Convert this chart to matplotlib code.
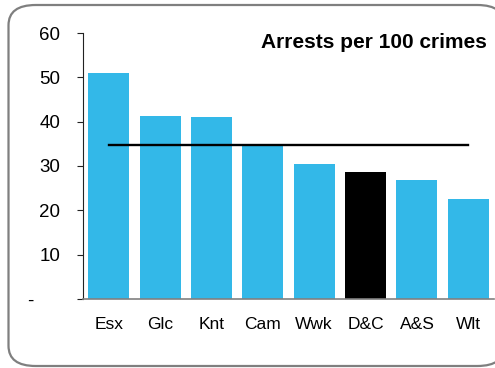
import matplotlib
matplotlib.use('Agg')
import matplotlib.pyplot as plt
from matplotlib.patches import FancyBboxPatch

plt.rcParams['font.family'] = ['Liberation Sans', 'DejaVu Sans']

# Data
forces = ['Esx', 'Glc', 'Knt', 'Cam', 'Wwk', 'D&C', 'A&S', 'Wlt']
arrests = [51.0, 41.2, 41.0, 35.0, 30.5, 28.6, 26.9, 22.6]
average = 34.7
highlight = 'D&C'
y_ticks = [0, 10, 20, 30, 40, 50, 60]
y_labels = ['-     ', '10', '20', '30', '40', '50', '60']

fig = plt.figure(figsize=(4.95, 3.68), dpi=100)

# Rounded border round the whole chart
border = FancyBboxPatch((8.5 / 495, 2 / 368), 496 / 495, 361 / 368,
                        boxstyle='round,pad=0,rounding_size=0.055',
                        transform=fig.transFigure, facecolor='white',
                        edgecolor='#7f7f7f', linewidth=1.6, zorder=-1)
fig.patches.append(border)

ax = fig.add_axes([83 / 495, 1 - 299 / 368, 411 / 495, (299 - 33) / 368])
ax.patch.set_alpha(0)
ax.set_zorder(1)

colors = ['black' if f == highlight else '#33B8E8' for f in forces]
x = range(len(forces))
ax.bar(x, arrests, width=0.8, color=colors, zorder=2)
ax.plot([0, len(forces) - 1], [average, average], color='black', linewidth=1.7, zorder=3)

ax.set_xlim(-0.5, len(forces) - 0.5)
ax.set_ylim(0, 60)
ax.set_yticks(y_ticks)
ax.set_yticklabels(y_labels, fontsize=13.5)
ax.set_xticks(list(x))
ax.set_xticklabels(forces, fontsize=12.5)

ax.spines['top'].set_visible(False)
ax.spines['right'].set_visible(False)
ax.spines['left'].set_color('#222222')
ax.spines['bottom'].set_color('#808080')
ax.spines['bottom'].set_linewidth(1.2)
ax.tick_params(axis='y', length=4.3, color='#222222', pad=12)
ax.tick_params(axis='x', length=0, pad=13)

fig.text(487 / 495, 1 - 42 / 368, 'Arrests per 100 crimes', ha='right', va='center',
         fontsize=15, fontweight='bold', zorder=5)

fig.savefig('out.png', dpi=100)
